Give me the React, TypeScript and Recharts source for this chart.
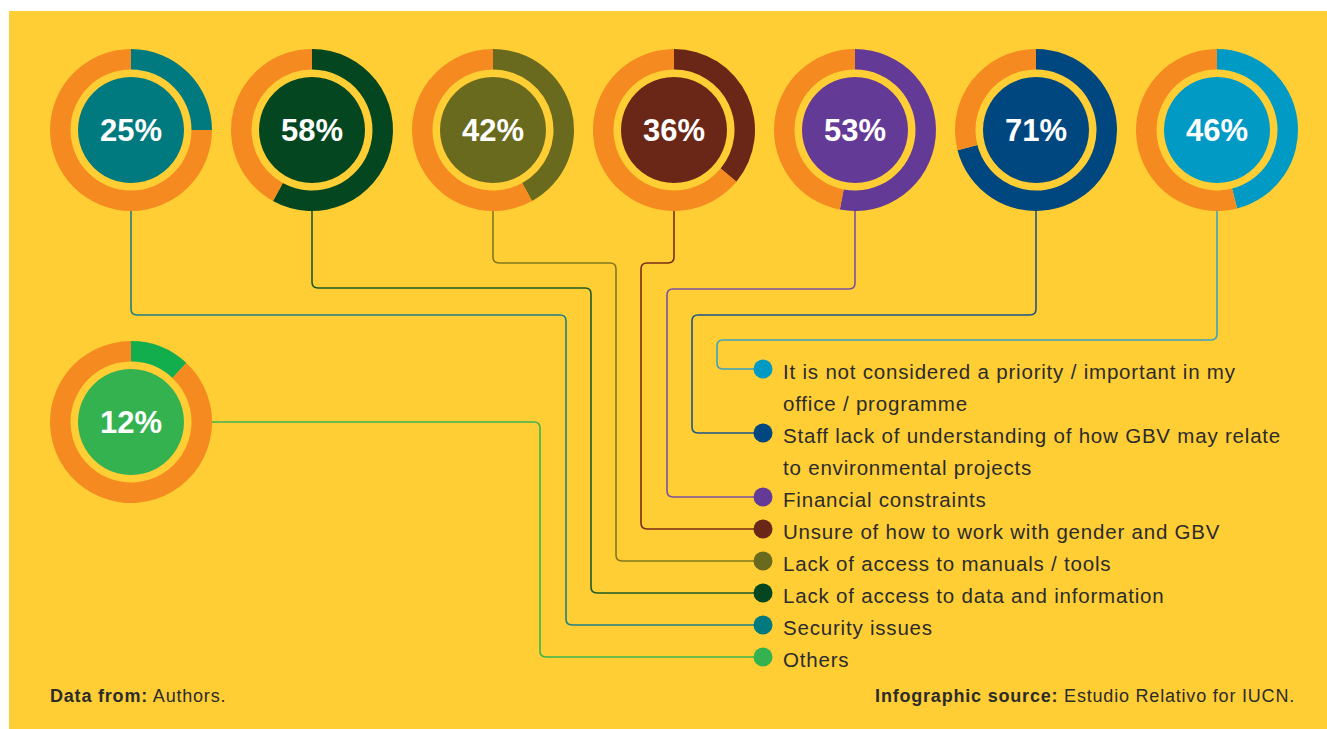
import React from 'react';
import { PieChart, Pie, Cell } from 'recharts';

const percents = [25, 58, 42, 36, 53, 71, 46, 12];
const categories = [
  'Security issues',
  'Lack of access to data and information',
  'Lack of access to manuals / tools',
  'Unsure of how to work with gender and GBV',
  'Financial constraints',
  'Staff lack of understanding of how GBV may relate to environmental projects',
  'It is not considered a priority / important in my office / programme',
  'Others',
];
const ringColors = ['#007A7E', '#03461F', '#6A6A1E', '#6A2717', '#643A97', '#00477F', '#009AC4', '#12AE4E'];
const fillColors = ['#007A7E', '#03461F', '#6A6A1E', '#6A2717', '#643A97', '#00477F', '#009AC4', '#33B24F'];
const lineColors = ['#1E7F86', '#1D5A25', '#7F7A1E', '#7A2D14', '#7B52A3', '#1D5488', '#3AA3C2', '#3DB44E'];

// legend rows, top to bottom (index into the arrays above) and their wrapped text
const legendOrder = [6, 5, 4, 3, 2, 1, 0, 7];
const legendLines: string[][] = [
  ['It is not considered a priority / important in my', 'office / programme'],
  ['Staff lack of understanding of how GBV may relate', 'to environmental projects'],
  ['Financial constraints'],
  ['Unsure of how to work with gender and GBV'],
  ['Lack of access to manuals / tools'],
  ['Lack of access to data and information'],
  ['Security issues'],
  ['Others'],
];

const W = 1327;
const H = 729;
const YELLOW = '#FFCE34';
const ORANGE = '#F58A20';
const FONT = '"Liberation Sans", Arial, Helvetica, sans-serif';

const centers = [
  { x: 131, y: 130 },
  { x: 312, y: 130 },
  { x: 493, y: 130 },
  { x: 674, y: 130 },
  { x: 855, y: 130 },
  { x: 1036, y: 130 },
  { x: 1217, y: 130 },
  { x: 131, y: 422 },
];

const DOT_X = 763;
const legendY = [369, 433, 497, 529, 561, 593, 625, 657];

// connector routes: [x, y] corner points from donut to legend dot
const routes: Record<number, number[][]> = {
  0: [[131, 211], [131, 315], [566, 315], [566, 625], [DOT_X, 625]],
  1: [[312, 211], [312, 288], [591, 288], [591, 593], [DOT_X, 593]],
  2: [[493, 211], [493, 263], [616, 263], [616, 561], [DOT_X, 561]],
  3: [[674, 211], [674, 263], [641, 263], [641, 529], [DOT_X, 529]],
  4: [[855, 211], [855, 289], [667, 289], [667, 497], [DOT_X, 497]],
  5: [[1036, 211], [1036, 315], [692, 315], [692, 433], [DOT_X, 433]],
  6: [[1217, 211], [1217, 340], [717, 340], [717, 369], [DOT_X, 369]],
  7: [[211, 422], [540, 422], [540, 657], [DOT_X, 657]],
};

function roundedPath(pts: number[][], r = 6) {
  let d = `M${pts[0][0]},${pts[0][1]}`;
  for (let i = 1; i < pts.length - 1; i++) {
    const [px, py] = pts[i - 1];
    const [cx, cy] = pts[i];
    const [nx, ny] = pts[i + 1];
    const l1 = Math.hypot(cx - px, cy - py);
    const l2 = Math.hypot(nx - cx, ny - cy);
    const rr = Math.min(r, l1 / 2, l2 / 2);
    const ax = cx - ((cx - px) / l1) * rr;
    const ay = cy - ((cy - py) / l1) * rr;
    const bx = cx + ((nx - cx) / l2) * rr;
    const by = cy + ((ny - cy) / l2) * rr;
    d += ` L${ax},${ay} Q${cx},${cy} ${bx},${by}`;
  }
  const last = pts[pts.length - 1];
  d += ` L${last[0]},${last[1]}`;
  return d;
}

const centerLabel = (p: number) => (props: any) => (
  <text
    x={props.cx}
    y={props.cy}
    dy={11}
    textAnchor="middle"
    fill="#fff"
    fontFamily={FONT}
    fontWeight={700}
    fontSize={31}
  >
    {`${p}%`}
  </text>
);

export default function App() {
  return (
    <div style={{ position: 'absolute', left: 0, top: 0, width: W, height: H, background: '#fff', overflow: 'hidden' }}>
      <div style={{ position: 'absolute', left: 9, top: 11, width: W - 9, height: H - 11, background: YELLOW }} />
      <svg width={W} height={H} style={{ position: 'absolute', left: 0, top: 0 }}>
        {percents.map((_, i) => (
          <path key={i} d={roundedPath(routes[i])} fill="none" stroke={lineColors[i]} strokeWidth={1.6} />
        ))}
      </svg>
      <div style={{ position: 'absolute', left: 0, top: 0 }}>
        <PieChart width={W} height={H} margin={{ top: 0, right: 0, bottom: 0, left: 0 }}>
          {percents.map((p, i) => (
            <Pie
              key={`ring-${i}`}
              data={[{ name: categories[i], value: p }, { name: 'rest', value: 100 - p }]}
              dataKey="value"
              cx={centers[i].x}
              cy={centers[i].y}
              innerRadius={60.5}
              outerRadius={81}
              startAngle={90}
              endAngle={-270}
              stroke="none"
              isAnimationActive={false}
            >
              <Cell fill={ringColors[i]} />
              <Cell fill={ORANGE} />
            </Pie>
          ))}
          {percents.map((p, i) => (
            <Pie
              key={`core-${i}`}
              data={[{ name: categories[i], value: 1 }]}
              dataKey="value"
              cx={centers[i].x}
              cy={centers[i].y}
              innerRadius={0}
              outerRadius={53}
              stroke="none"
              fill={fillColors[i]}
              label={centerLabel(p)}
              labelLine={false}
              isAnimationActive={false}
            />
          ))}
        </PieChart>
      </div>
      <svg width={W} height={H} style={{ position: 'absolute', left: 0, top: 0 }}>
        {legendOrder.map((idx, row) => (
          <g key={row}>
            <circle cx={DOT_X} cy={legendY[row]} r={9.5} fill={fillColors[idx]} />
            {legendLines[row].map((line, k) => (
              <text
                key={k}
                x={783}
                y={legendY[row] + 9.5 + k * 32}
                fontFamily={FONT}
                fontSize={20.5}
                letterSpacing={0.8}
                fill="#2B2B2B"
              >
                {line}
              </text>
            ))}
          </g>
        ))}
        <text x={50} y={702} fontFamily={FONT} fontSize={18} letterSpacing={0.8} fill="#2B2B2B">
          <tspan fontWeight={700}>Data from:</tspan> Authors.
        </text>
        <text x={1295} y={702} textAnchor="end" fontFamily={FONT} fontSize={18} letterSpacing={0.8} fill="#2B2B2B">
          <tspan fontWeight={700}>Infographic source:</tspan> Estudio Relativo for IUCN.
        </text>
      </svg>
    </div>
  );
}
